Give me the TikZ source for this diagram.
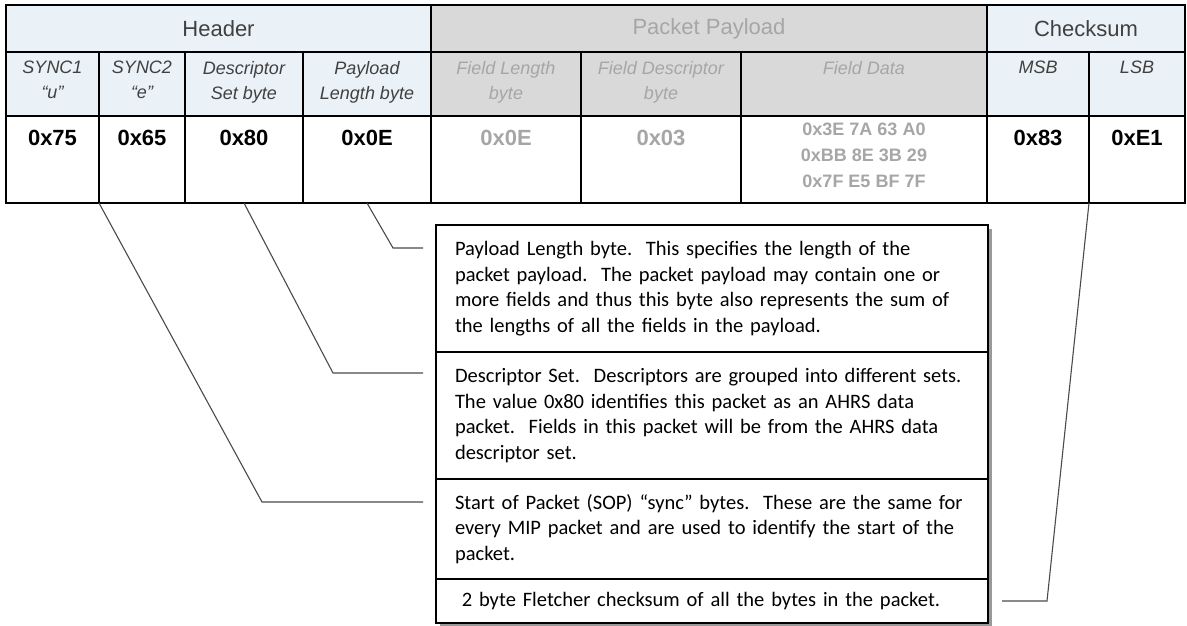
\documentclass[tikz,border=0pt]{standalone}
\usepackage{fontspec}
\usepackage{xcolor}
\usetikzlibrary{positioning,shadows}
\newfontfamily\tabfont{Liberation Sans}
\newfontfamily\notefont{Carlito}
\definecolor{hdrblue}{HTML}{EAF2F7}
\definecolor{plgray}{HTML}{D9D9D9}
\definecolor{pltext}{HTML}{A6A6A6}
\definecolor{hdrtext}{HTML}{404040}
\definecolor{leadgray}{HTML}{4A4A4A}

\begin{document}
\begin{tikzpicture}[x=1pt,y=-1pt,
    cell/.style={draw, line width=1.1pt, outer sep=0pt, inner sep=0pt, anchor=north west},
    grouphdr/.style={cell, minimum height=47pt, font=\tabfont\fontsize{22}{26}\selectfont},
    subhdr/.style={cell, minimum height=64pt},
    valcell/.style={cell, minimum height=87pt, fill=white},
    subtxt/.style={inner sep=0pt, align=center, font=\tabfont\itshape\fontsize{18}{25}\selectfont, text=hdrtext},
    valtxt/.style={inner sep=0pt, font=\tabfont\bfseries\fontsize{22}{26}\selectfont},
    datatxt/.style={inner sep=0pt, align=center, font=\tabfont\bfseries\fontsize{18}{26}\selectfont, text=pltext},
    notebox/.style={draw, line width=1.1pt, fill=white, outer sep=0pt, anchor=north west,
      minimum width=552pt, text width=514pt, inner xsep=19pt, align=left,
      font=\notefont\fontsize{20.5}{25.5}\selectfont,
      drop shadow={shadow xshift=3.5pt, shadow yshift=-3.5pt, fill=black!40, opacity=1}},
    leader/.style={draw=leadgray, line width=1.1pt}]
      \useasboundingbox (0,0) rectangle (1187,626);
      \node[grouphdr, fill=hdrblue, minimum width=425pt, text=hdrtext] (header) at (6,5) {Header};
      \node[grouphdr, fill=plgray, minimum width=556pt, text=pltext] (payload) at (431,5) {Packet Payload};
      \node[grouphdr, fill=hdrblue, minimum width=198pt, text=hdrtext] (checksum) at (987,5) {Checksum};
      \node[subhdr, fill=hdrblue, minimum width=93pt] (sync1) at (6,52) {};
      \node[subhdr, fill=hdrblue, minimum width=86pt] (sync2) at (99,52) {};
      \node[subhdr, fill=hdrblue, minimum width=118pt] (desc) at (185,52) {};
      \node[subhdr, fill=hdrblue, minimum width=128pt] (plen) at (303,52) {};
      \node[subhdr, fill=plgray, minimum width=150pt] (flen) at (431,52) {};
      \node[subhdr, fill=plgray, minimum width=160pt] (fdesc) at (581,52) {};
      \node[subhdr, fill=plgray, minimum width=246pt] (fdata) at (741,52) {};
      \node[subhdr, fill=hdrblue, minimum width=102pt] (msb) at (987,52) {};
      \node[subhdr, fill=hdrblue, minimum width=96pt] (lsb) at (1089,52) {};
      \node[subtxt, below=9pt of sync1.north] (sync1txt) {SYNC1\\“u”};
      \node[subtxt, below=9pt of sync2.north] (sync2txt) {SYNC2\\“e”};
      \node[subtxt, below=9pt of desc.north] (desctxt) {Descriptor\\Set byte};
      \node[subtxt, below=9pt of plen.north] (plentxt) {Payload\\Length byte};
      \node[subtxt, below=9pt of flen.north, text=pltext] (flentxt) {Field Length\\byte};
      \node[subtxt, below=9pt of fdesc.north, text=pltext] (fdesctxt) {Field Descriptor\\byte};
      \node[subtxt, below=9pt of fdata.north, text=pltext] (fdatatxt) {Field Data};
      \node[subtxt, below=9pt of msb.north] (msbtxt) {MSB};
      \node[subtxt, below=9pt of lsb.north] (lsbtxt) {LSB};
      \node[valcell, minimum width=93pt] (vsync1) at (6,116) {};
      \node[valcell, minimum width=86pt] (vsync2) at (99,116) {};
      \node[valcell, minimum width=118pt] (vdesc) at (185,116) {};
      \node[valcell, minimum width=128pt] (vplen) at (303,116) {};
      \node[valcell, minimum width=150pt] (vflen) at (431,116) {};
      \node[valcell, minimum width=160pt] (vfdesc) at (581,116) {};
      \node[valcell, minimum width=246pt] (vfdata) at (741,116) {};
      \node[valcell, minimum width=102pt] (vmsb) at (987,116) {};
      \node[valcell, minimum width=96pt] (vlsb) at (1089,116) {};
      \node[valtxt, below=14pt of vsync1.north] (vsync1txt) {0x75};
      \node[valtxt, below=14pt of vsync2.north] (vsync2txt) {0x65};
      \node[valtxt, below=14pt of vdesc.north] (vdesctxt) {0x80};
      \node[valtxt, below=14pt of vplen.north] (vplentxt) {0x0E};
      \node[valtxt, below=14pt of vflen.north, text=pltext] (vflentxt) {0x0E};
      \node[valtxt, below=14pt of vfdesc.north, text=pltext] (vfdesctxt) {0x03};
      \node[datatxt, below=7pt of vfdata.north] (vfdatatxt) {0x3E 7A 63 A0\\0xBB 8E 3B 29\\0x7F E5 BF 7F};
      \node[valtxt, below=14pt of vmsb.north] (vmsbtxt) {0x83};
      \node[valtxt, below=14pt of vlsb.north] (vlsbtxt) {0xE1};
      \node[notebox, minimum height=127pt] (plbox) at (436,225) {Payload Length byte.\ \ This specifies the length of the\\packet payload.\ \ The packet payload may contain one or\\more fields and thus this byte also represents the sum of\\the lengths of all the fields in the payload.};
      \node[notebox, minimum height=127pt] (dsbox) at (436,352) {Descriptor Set.\ \ Descriptors are grouped into different sets.\\The value 0x80 identifies this packet as an AHRS data\\packet.\ \ Fields in this packet will be from the AHRS data\\descriptor set.};
      \node[notebox, minimum height=100pt] (sopbox) at (436,479) {Start of Packet (SOP) “sync” bytes.\ \ These are the same for\\every MIP packet and are used to identify the start of the\\packet.};
      \node[notebox, minimum height=44pt] (ckbox) at (436,579) {\ 2 byte Fletcher checksum of all the bytes in the packet.};
      \coordinate (plend) at (423,248);
      \coordinate (dsend) at (423,373);
      \coordinate (sopend) at (423,502);
      \coordinate (ckend) at (1002,601);
      \draw[leader] (vplen.south) -- ++(26,45) -- (plend);
      \draw[leader] (vdesc.south) -- ++(89,170) -- (dsend);
      \draw[leader] (vsync1.south east) -- ++(163,299) -- (sopend);
      \draw[leader] (vmsb.south east) -- ++(-42,398) -- (ckend);
    \end{tikzpicture}
\end{document}
